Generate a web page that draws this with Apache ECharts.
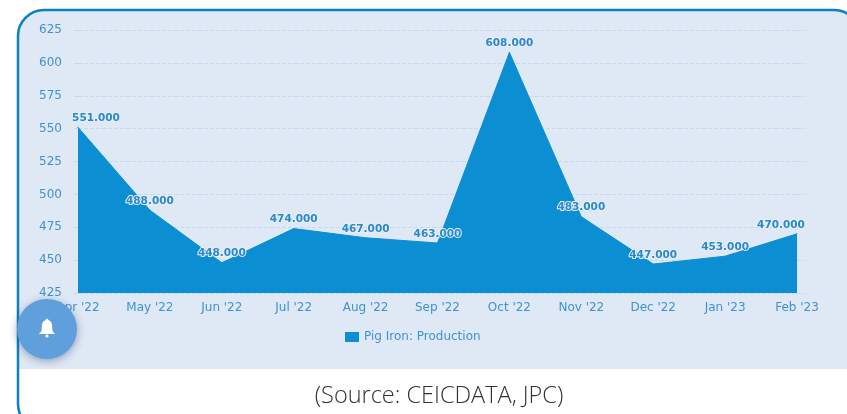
<!DOCTYPE html>
<html>
<head>
<meta charset="utf-8">
<style>
html,body{margin:0;padding:0;background:#fff;overflow:hidden}
#chart{width:847px;height:414px}
</style>
<script src="https://cdn.jsdelivr.net/npm/echarts@6/dist/echarts.min.js"></script>
</head>
<body>
<div id="chart"></div>
<script>
var categories=["Apr '22","May '22","Jun '22","Jul '22","Aug '22","Sep '22","Oct '22","Nov '22","Dec '22","Jan '23","Feb '23"];
var production=[551,488,448,474,467,463,608,483,447,453,470];
var seriesName='Pig Iron: Production';
var sourceText='(Source: CEICDATA, JPC)';

var blue='#0b8fd2';
var textBlue='#3f92d2';
var gridColor='#c8d8ef';

// first and last labels sit inside the plot, not centred on the point
var points=[];
for(var i=0;i<production.length;i++){
	var item={value:production[i]};
	if(i==0) item.label={offset:[18,0]};
	if(i==production.length-1) item.label={offset:[-16,0]};
	points.push(item);
}

var mychart=echarts.init(document.getElementById('chart'),null,{renderer:'canvas'});
var option={
	animation:false,
	backgroundColor:'#fff',
	textStyle:{fontFamily:'DejaVu Sans'},
	grid:{left:78,right:50,top:30,bottom:121,containLabel:false},
	legend:{
		data:[seriesName],
		left:340,
		top:326,
		itemWidth:14,
		itemHeight:10,
		itemGap:4,
		icon:'rect',
		textStyle:{color:textBlue,fontSize:12,fontFamily:'DejaVu Sans'}
	},
	xAxis:{
		type:'category',
		boundaryGap:false,
		data:categories,
		axisLine:{show:false},
		axisTick:{show:false},
		axisLabel:{color:textBlue,fontSize:12,margin:9,interval:0}
	},
	yAxis:[
		{
			type:'value',
			min:425,
			max:625,
			interval:25,
			axisLine:{show:false},
			axisTick:{show:true,length:6,lineStyle:{color:gridColor,type:'dashed'}},
			axisLabel:{color:textBlue,fontSize:12,margin:16},
			splitLine:{show:true,lineStyle:{color:gridColor,type:'dashed',width:1}}
		},
		{
			type:'value',
			position:'right',
			min:425,
			max:625,
			interval:25,
			axisLine:{show:false},
			axisTick:{show:true,length:8,lineStyle:{color:gridColor,type:'dashed'}},
			axisLabel:{show:false},
			splitLine:{show:false}
		}
	],
	series:[{
		name:seriesName,
		type:'line',
		data:points,
		symbol:'circle',
		symbolSize:1,
		itemStyle:{color:blue},
		lineStyle:{color:blue,width:1},
		areaStyle:{color:blue,opacity:1},
		label:{
			show:true,
			position:'top',
			distance:3,
			color:'#2a88cc',
			fontSize:10.5,
			fontWeight:'bold',
			textBorderColor:'#e6eef9',
			textBorderWidth:2,
			formatter:function(p){return p.value.toFixed(3);}
		}
	}],
	graphic:[
		{
			type:'rect',
			z:-10,
			shape:{x:18,y:10,width:840,height:359,r:[24,24,0,0]},
			style:{fill:'#dfe8f5'}
		},
		{
			type:'rect',
			z:50,
			shape:{x:18,y:10,width:842,height:420,r:26},
			style:{fill:'none',stroke:'#0a80c8',lineWidth:2.5}
		},
		{
			type:'text',
			z:50,
			x:439,
			y:396,
			style:{
				text:sourceText,
				fill:'#333',
				font:'300 23.5px "Open Sans"',
				textAlign:'center',
				textVerticalAlign:'middle'
			}
		},
		{
			type:'circle',
			z:60,
			shape:{cx:47,cy:329,r:30},
			style:{fill:'#5f9fdb',shadowBlur:8,shadowColor:'rgba(40,70,110,0.45)',shadowOffsetY:2}
		},
		// bell icon
		{type:'circle',z:61,shape:{cx:47,cy:325,r:5},style:{fill:'#fff'}},
		{type:'circle',z:61,shape:{cx:47,cy:320,r:1.3},style:{fill:'#fff'}},
		{type:'polygon',z:61,shape:{points:[[42,325],[52,325],[52.5,331],[55,334],[39,334],[41.5,331]]},style:{fill:'#fff'}},
		{type:'circle',z:61,shape:{cx:47,cy:336,r:1.6},style:{fill:'#fff'}}
	]
};
mychart.setOption(option);
</script>
</body>
</html>
